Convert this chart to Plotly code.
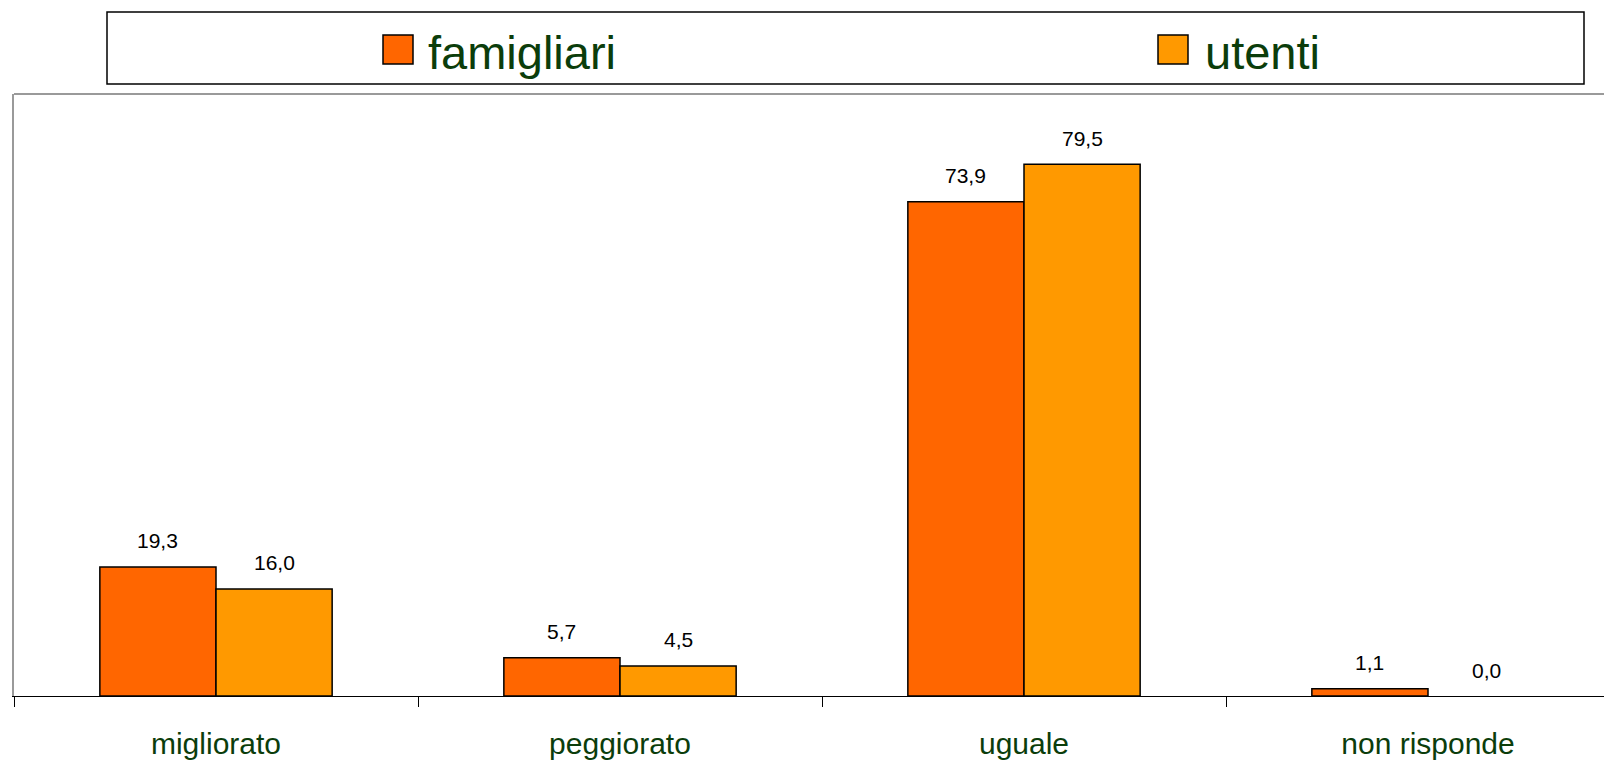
import plotly.graph_objects as go

# ---- data ----
categories = ["migliorato", "peggiorato", "uguale", "non risponde"]
series_names = ["famigliari", "utenti"]
famigliari = [19.3, 5.7, 73.9, 1.1]
utenti = [16.0, 4.5, 79.5, 0.0]
series_values = [famigliari, utenti]
series_colors = ["#FF6600", "#FF9900"]

# ---- layout geometry (page pixels; the page body has an 8px margin) ----
OFF = 8
PAGE_W, PAGE_H = 1612, 761
PLOT_L, PLOT_T, PLOT_B, PLOT_R = 14, 94, 696, 1612
W, H = PAGE_W - OFF, PAGE_H - OFF
ML, MT = PLOT_L - OFF, PLOT_T - OFF
MR = (W + OFF) - PLOT_R
MB = (H + OFF) - PLOT_B
PW, PH = PLOT_R - PLOT_L, PLOT_B - PLOT_T
CAT_PX = 404.0           # width of one category slot in pixels
BARGAP = 0.425
BAR_PX = CAT_PX * (1 - BARGAP) / len(series_names)
FONT = "Arial, Liberation Sans, sans-serif"
GREEN = "#0B3D0B"


def px(x):
    return (x - PLOT_L) / PW


def py(y):
    return (PLOT_B - y) / PH


fig = go.Figure()
for name, vals, col in zip(series_names, series_values, series_colors):
    fig.add_trace(go.Bar(
        x=categories, y=vals, name=name,
        marker=dict(color=col,
                    line=dict(color="black",
                              width=[1.5 if v > 0 else 0 for v in vals])),
        showlegend=False, hoverinfo="x+y+name",
    ))

annotations = []
n = len(series_names)
for si, vals in enumerate(series_values):
    offset = (si - (n - 1) / 2) * BAR_PX
    for cat, v in zip(categories, vals):
        annotations.append(dict(
            x=cat, y=v, xref="x", yref="y",
            text=f"{v:.1f}".replace(".", ","),
            showarrow=False, xshift=offset, yshift=26, yanchor="middle",
            font=dict(family=FONT, size=21, color="black"),
        ))

shapes = [
    # top border of plot area
    dict(type="line", xref="paper", yref="paper", x0=0, x1=1, y0=1, y1=1,
         line=dict(color="#9A9A9A", width=2)),
    # legend box
    dict(type="rect", xref="paper", yref="paper",
         x0=px(107), x1=px(1584), y0=py(12), y1=py(84),
         line=dict(color="black", width=1.5), fillcolor="white"),
]
legend_sq_x = [383, 1158]
legend_tx_x = [426, 1203]
for name, col, sx, tx in zip(series_names, series_colors, legend_sq_x, legend_tx_x):
    shapes.append(dict(type="rect", xref="paper", yref="paper",
                       x0=px(sx), x1=px(sx + 30), y0=py(35), y1=py(64),
                       line=dict(color="black", width=1.5), fillcolor=col))
    annotations.append(dict(x=px(tx), y=py(52), xref="paper", yref="paper",
                            text=name, showarrow=False, xanchor="left",
                            yanchor="middle",
                            font=dict(family=FONT, size=47, color=GREEN)))

fig.update_layout(
    width=W, height=H,
    margin=dict(l=ML, r=MR, t=MT, b=MB, pad=0),
    paper_bgcolor="white", plot_bgcolor="white",
    barmode="group", bargap=BARGAP, bargroupgap=0,
    separators=",.",
    showlegend=False,
    font=dict(family=FONT),
    xaxis=dict(
        type="category", range=[-0.5, -0.5 + PW / CAT_PX],
        showline=True, linecolor="black", linewidth=1,
        ticks="outside", ticklen=10, tickcolor="black", tickwidth=1,
        tickson="boundaries", showgrid=False, zeroline=False,
        tickfont=dict(family=FONT, size=30, color=GREEN),
        ticklabelstandoff=21,
    ),
    yaxis=dict(
        range=[0, 90], showline=True, linecolor="#9A9A9A", linewidth=2,
        showticklabels=False, ticks="", showgrid=False, zeroline=False,
    ),
    annotations=annotations,
    shapes=shapes,
)

fig.write_html("out.html")
